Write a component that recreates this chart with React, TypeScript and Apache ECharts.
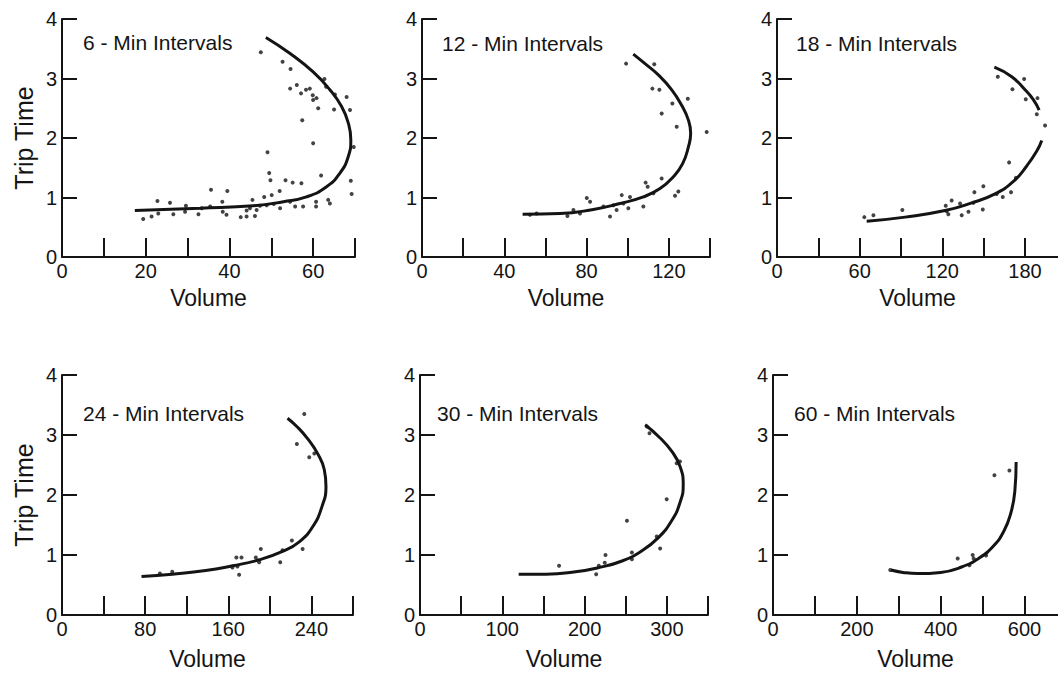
import React, { useEffect, useRef } from "react";
import * as echarts from "echarts";

const FONT = '"Liberation Sans", Arial, Helvetica, sans-serif';
const INK = "#141414";

const titles = [
  "6 - Min Intervals",
  "12 - Min Intervals",
  "18 - Min Intervals",
  "24 - Min Intervals",
  "30 - Min Intervals",
  "60 - Min Intervals",
];

const yTickValues = [0, 1, 2, 3, 4];

const xMaxes = [70, 140, 204, 280, 350, 680];
const xTicks1 = [10, 20, 30, 40, 50, 60, 70];
const xLabels1 = [0, 20, 40, 60];
const xTicks2 = [20, 40, 60, 80, 100, 120, 140];
const xLabels2 = [0, 40, 80, 120];
const xTicks3 = [30, 60, 90, 120, 150, 180];
const xLabels3 = [0, 60, 120, 180];
const xTicks4 = [40, 80, 120, 160, 200, 240, 280];
const xLabels4 = [0, 80, 160, 240];
const xTicks5 = [50, 100, 150, 200, 250, 300, 350];
const xLabels5 = [0, 100, 200, 300];
const xTicks6 = [100, 200, 300, 400, 500, 600];
const xLabels6 = [0, 200, 400, 600];

// 6-min intervals
const curve1 = [
  [17.4, 0.78], [33, 0.82], [45.7, 0.86], [52.9, 0.93], [58.4, 1.01], [63.2, 1.18],
  [66.4, 1.41], [68.4, 1.69], [69.0, 1.97], [68.4, 2.25], [66.8, 2.53], [64.0, 2.81],
  [60.0, 3.11], [54.5, 3.42], [48.7, 3.69],
];
const points1 = [
  [47.5, 3.44], [52.7, 3.28], [54.6, 3.16], [62.7, 2.99], [54.5, 2.83], [56.1, 2.89],
  [57.1, 2.75], [58.3, 2.81], [59.2, 2.83], [59.9, 2.72], [60.8, 2.67], [60.0, 2.64],
  [61.2, 2.5], [63.1, 2.86], [65.2, 2.73], [65.0, 2.48], [68.0, 2.69], [68.8, 2.47],
  [57.4, 2.3], [60.0, 1.91], [69.7, 1.85], [49.1, 1.76], [49.5, 1.41], [49.8, 1.29],
  [53.4, 1.29], [55.1, 1.25], [57.2, 1.24], [61.9, 1.37], [69.0, 1.28], [69.2, 1.06],
  [52.0, 1.11], [50.1, 1.04], [48.3, 1.01], [45.5, 0.96], [63.6, 0.96], [64.0, 0.9],
  [60.7, 0.93], [60.7, 0.85], [57.6, 0.85], [55.7, 0.85], [54.5, 0.93], [52.1, 0.82],
  [50.6, 0.89], [48.9, 0.87], [47.3, 0.86], [46.5, 0.79], [44.9, 0.82], [44.1, 0.78],
  [44.1, 0.68], [42.7, 0.67], [46.1, 0.69], [39.3, 0.71], [38.4, 0.76], [38.3, 0.93],
  [39.5, 1.11], [35.6, 1.13], [35.4, 0.85], [33.4, 0.82], [32.6, 0.72], [29.6, 0.86],
  [26.6, 0.72], [25.8, 0.91], [22.8, 0.94], [23.0, 0.73], [21.4, 0.68], [19.4, 0.64],
  [29.4, 0.76],
];

// 12-min intervals
const curve2 = [
  [48.9, 0.72], [67.1, 0.73], [83.3, 0.8], [96.3, 0.9], [107.6, 1.01], [115.7, 1.15],
  [122.2, 1.35], [126.7, 1.57], [129.5, 1.85], [130.6, 2.08], [129.5, 2.3], [126.2, 2.55],
  [121.4, 2.81], [114.9, 3.06], [108.4, 3.25], [102.7, 3.41],
];
const points2 = [
  [99.2, 3.25], [112.9, 3.24], [112.0, 2.83], [115.4, 2.81], [121.7, 2.58], [129.2, 2.66],
  [116.5, 2.41], [123.8, 2.19], [138.4, 2.1], [108.7, 1.25], [109.7, 1.18], [116.5, 1.32],
  [124.6, 1.1], [123.0, 1.03], [112.5, 1.07], [107.6, 0.85], [100.3, 0.82], [101.1, 1.01],
  [97.9, 0.9], [94.6, 0.79], [93.0, 0.87], [91.4, 0.68], [88.2, 0.85], [81.7, 0.93],
  [80.1, 0.99], [76.8, 0.73], [73.6, 0.79], [70.7, 0.69], [55.7, 0.73], [52.5, 0.71],
  [97.1, 1.04],
];

// 18-min intervals
const curve3Lower = [
  [65.1, 0.6], [93.0, 0.67], [122.0, 0.78], [141.4, 0.91], [158.3, 1.06], [171.6, 1.27],
  [181.3, 1.53], [188.6, 1.78], [192.2, 1.96],
];
const curve3Upper = [
  [157.8, 3.19], [170.4, 3.03], [180.1, 2.81], [186.2, 2.64], [190.3, 2.47],
];
const points3 = [
  [160.3, 3.03], [179.4, 2.99], [170.9, 2.82], [180.6, 2.65], [189.1, 2.67], [188.6, 2.4],
  [194.6, 2.21], [168.5, 1.59], [173.4, 1.33], [169.9, 1.09], [163.9, 1.01], [159.5, 1.06],
  [149.8, 1.19], [143.3, 1.09], [149.4, 0.8], [139.0, 0.76], [134.1, 0.7], [132.9, 0.9],
  [126.8, 0.95], [123.2, 0.77], [122.5, 0.86], [124.4, 0.72], [91.0, 0.79], [70.0, 0.7],
  [63.4, 0.67], [142.6, 0.91],
];

// 24-min intervals
const curve4 = [
  [76.5, 0.64], [106.1, 0.68], [138.3, 0.74], [164.0, 0.82], [189.7, 0.92], [212.2, 1.06],
  [228.3, 1.22], [241.2, 1.47], [250.2, 1.81], [254.0, 2.14], [252.4, 2.42], [246.0, 2.69],
  [236.3, 2.94], [226.7, 3.13], [217.0, 3.28],
];
const points4 = [
  [233.1, 3.35], [226.0, 2.85], [237.9, 2.63], [242.8, 2.69], [231.5, 1.1], [221.2, 1.24],
  [210.0, 0.88], [212.2, 1.08], [191.3, 1.1], [186.5, 0.96], [189.7, 0.88], [172.7, 0.96],
  [167.8, 0.96], [168.8, 0.81], [170.4, 0.67], [164.0, 0.79], [106.1, 0.72], [94.2, 0.69],
];

// 30-min intervals
const curve5 = [
  [119.9, 0.68], [152.9, 0.68], [189.1, 0.72], [217.3, 0.79], [245.5, 0.9], [269.6, 1.07],
  [289.7, 1.29], [305.8, 1.57], [315.9, 1.87], [319.9, 2.17], [315.9, 2.48], [305.8, 2.73],
  [291.8, 2.95], [273.6, 3.17],
];
const points5 = [
  [275.7, 3.14], [278.9, 3.03], [311.9, 2.53], [315.9, 2.56], [299.8, 1.93], [251.5, 1.57],
  [287.7, 1.31], [291.8, 1.11], [257.5, 1.04], [257.5, 0.93], [225.4, 1.0], [224.5, 0.87],
  [217.3, 0.82], [214.1, 0.68], [169.0, 0.82],
];

// 60-min intervals
const curve6 = [
  [281.3, 0.75], [310.0, 0.71], [345.0, 0.69], [400.0, 0.71], [450.0, 0.8], [492.0, 0.95],
  [526.0, 1.15], [551.0, 1.4], [567.5, 1.7], [577.0, 2.06], [580.1, 2.55],
];
const points6 = [
  [279.7, 0.75], [528.3, 2.33], [564.1, 2.41], [440.6, 0.94], [468.5, 0.83], [478.9, 0.94],
  [476.5, 1.0], [508.4, 0.99],
];

const xTicks = [xTicks1, xTicks2, xTicks3, xTicks4, xTicks5, xTicks6];
const xLabels = [xLabels1, xLabels2, xLabels3, xLabels4, xLabels5, xLabels6];
const curves = [[curve1], [curve2], [curve3Lower, curve3Upper], [curve4], [curve5], [curve6]];
const points = [points1, points2, points3, points4, points5, points6];

// layout (pixels)
const grids = [
  { left: 62, top: 19, width: 293, height: 238 },
  { left: 422, top: 19, width: 288, height: 238 },
  { left: 777, top: 19, width: 281, height: 238 },
  { left: 62, top: 375, width: 291, height: 240 },
  { left: 420, top: 375, width: 288, height: 240 },
  { left: 773, top: 375, width: 285, height: 240 },
];
const titlePos = [
  { left: 83, top: 31 },
  { left: 442, top: 32 },
  { left: 796, top: 32 },
  { left: 83, top: 402 },
  { left: 437, top: 402 },
  { left: 794, top: 402 },
];

function buildOption() {
  const grid = grids.map((g) => ({ ...g, containLabel: false }));
  const title = titles.map((t, i) => ({
    text: t,
    left: titlePos[i].left,
    top: titlePos[i].top,
    padding: 0,
    textStyle: { fontFamily: FONT, fontSize: 21, fontWeight: "normal", color: INK, lineHeight: 22 },
  }));
  const xAxis = xMaxes.map((mx, i) => ({
    type: "value",
    gridIndex: i,
    min: 0,
    max: mx,
    name: "Volume",
    nameLocation: "middle",
    nameGap: i < 3 ? 29 : 32,
    nameTextStyle: { fontFamily: FONT, fontSize: 23, color: INK },
    axisLine: { show: true, onZero: false, lineStyle: { color: INK, width: 2 } },
    axisTick: { show: true, inside: true, length: 19, customValues: xTicks[i], lineStyle: { color: INK, width: 2 } },
    axisLabel: { customValues: xLabels[i], fontFamily: FONT, fontSize: 20, color: INK, margin: 4 },
    splitLine: { show: false },
  }));
  const yAxis = xMaxes.map((_, i) => ({
    type: "value",
    gridIndex: i,
    min: 0,
    max: 4,
    interval: 1,
    name: i === 0 || i === 3 ? "Trip Time" : "",
    nameLocation: "middle",
    nameGap: 26,
    nameTextStyle: { fontFamily: FONT, fontSize: 25, color: INK },
    axisLine: { show: true, onZero: false, lineStyle: { color: INK, width: 2 } },
    axisTick: { show: true, inside: true, length: 15, customValues: yTickValues, lineStyle: { color: INK, width: 2 } },
    axisLabel: { fontFamily: FONT, fontSize: 20, color: INK, margin: 5 },
    splitLine: { show: false },
  }));
  const series: any[] = [];
  curves.forEach((list, i) => {
    list.forEach((c) => {
      series.push({
        type: "line",
        xAxisIndex: i,
        yAxisIndex: i,
        data: c,
        smooth: 0.5,
        showSymbol: false,
        symbol: "none",
        lineStyle: { color: INK, width: 3 },
        z: 3,
      });
    });
    series.push({
      type: "scatter",
      xAxisIndex: i,
      yAxisIndex: i,
      data: points[i],
      symbol: "circle",
      symbolSize: 4,
      itemStyle: { color: INK },
      z: 4,
    });
  });
  return {
    animation: false,
    backgroundColor: "#ffffff",
    title,
    grid,
    xAxis,
    yAxis,
    series,
  };
}

export default function App() {
  const ref = useRef<HTMLDivElement>(null);
  useEffect(() => {
    if (!ref.current) return;
    const chart = echarts.init(ref.current, undefined, { renderer: "svg" });
    chart.setOption(buildOption() as any);
    return () => chart.dispose();
  }, []);
  return (
    <div
      ref={ref}
      style={{ position: "fixed", left: 0, top: 0, width: 1058, height: 675, background: "#fff" }}
    />
  );
}
